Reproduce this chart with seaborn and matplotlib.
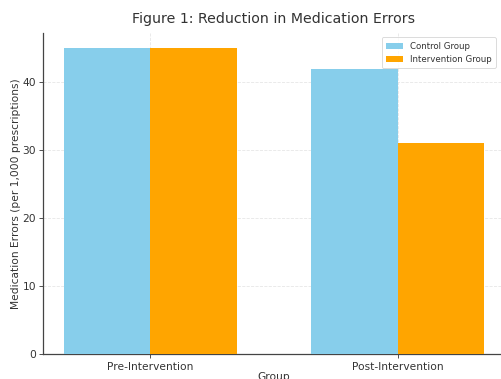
import matplotlib
matplotlib.use("Agg")
import matplotlib.pyplot as plt
import seaborn as sns
import pandas as pd

groups = ["Pre-Intervention", "Post-Intervention"]
series = ["Control Group", "Intervention Group"]
control_values = [45, 42]
intervention_values = [45, 31]
colors = ["#87CEEB", "#FFA500"]

df = pd.DataFrame({
    "Group": groups * 2,
    "Series": [series[0]] * 2 + [series[1]] * 2,
    "Value": control_values + intervention_values,
})

sns.set_style("whitegrid", {"grid.linestyle": "--", "grid.color": "#e6e6e6"})
plt.rcParams["font.family"] = ["DejaVu Sans"]

W, H = 502, 379
fig = plt.figure(figsize=(W / 100, H / 100), dpi=100)
ax = fig.add_axes([43 / W, (H - 354) / H, (505 - 43) / W, (354 - 33) / H])

sns.barplot(data=df, x="Group", y="Value", hue="Series", palette=colors,
            width=0.7, saturation=1, linewidth=0, ax=ax, zorder=3)

ax.set_xlim(-0.435, 1.435)
ax.set_ylim(0, 47.25)
ax.set_yticks([0, 10, 20, 30, 40])
ax.grid(True, linewidth=0.6, zorder=0)
ax.set_axisbelow(True)

for s in ["top", "right"]:
    ax.spines[s].set_visible(False)
for s in ["left", "bottom"]:
    ax.spines[s].set_color("#444444")
    ax.spines[s].set_linewidth(0.9)

ax.tick_params(axis="both", labelsize=7.7, colors="#333333", length=3, width=0.6,
               pad=3, left=True, bottom=True)
ax.tick_params(axis="y", pad=2)
ax.set_xlabel("Group", fontsize=7.7, color="#333333", labelpad=0)
ax.set_ylabel("Medication Errors (per 1,000 prescriptions)", fontsize=7.7,
              color="#333333")
ax.yaxis.set_label_coords(-0.047, 0.5)
ax.set_title("Figure 1: Reduction in Medication Errors", fontsize=10.2,
             color="#333333", pad=7)

leg = ax.legend(loc="upper right", fontsize=6.2, frameon=True, title=None,
                handlelength=2.0, borderpad=0.5, bbox_to_anchor=(0.99, 1.0))
leg.get_frame().set_edgecolor("#cccccc")
leg.get_frame().set_linewidth(0.6)
for t in leg.get_texts():
    t.set_color("#333333")

fig.savefig("out.png", dpi=100)
